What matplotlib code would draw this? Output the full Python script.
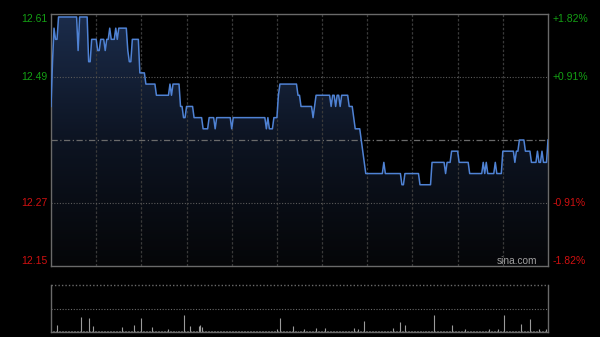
import numpy as np
import matplotlib
matplotlib.use("Agg")
import matplotlib.pyplot as plt
from matplotlib.colors import LinearSegmentedColormap
from matplotlib.transforms import blended_transform_factory

plt.rcParams["font.family"] = ["Liberation Sans", "DejaVu Sans"]

# ---------------- data ----------------
prev_close = 12.38
total_minutes = 331          # 09:30-12:00 + 13:00-16:00, one point per minute

# price as runs: minute where a run starts, and its price
run_start = [0, 1, 2, 3, 5, 18, 19, 25, 27, 31, 33, 36, 37, 39, 40, 43, 44, 45,
             51, 52, 54, 59, 63, 70, 79, 80, 81, 86, 88, 90, 95, 101, 105, 109,
             110, 120, 121, 143, 144, 145, 148, 151, 152, 164, 166, 174, 175,
             176, 186, 187, 189, 190, 192, 193, 198, 201, 202, 206, 207, 208,
             209, 221, 222, 233, 235, 245, 253, 262, 263, 266, 271, 278, 287,
             288, 289, 290, 295, 296, 300, 308, 309, 311, 315, 319, 323, 324,
             326, 327, 330]
run_price = [12.44, 12.52, 12.58, 12.56, 12.60, 12.54, 12.60, 12.52, 12.56,
             12.54, 12.56, 12.54, 12.56, 12.58, 12.56, 12.58, 12.56, 12.58,
             12.54, 12.52, 12.56, 12.50, 12.48, 12.46, 12.48, 12.46, 12.48,
             12.44, 12.42, 12.44, 12.42, 12.40, 12.42, 12.40, 12.42, 12.40,
             12.42, 12.40, 12.42, 12.40, 12.42, 12.46, 12.48, 12.46, 12.44,
             12.42, 12.44, 12.46, 12.44, 12.46, 12.44, 12.46, 12.44, 12.46,
             12.44, 12.42, 12.40, 12.38, 12.36, 12.34, 12.32, 12.34, 12.32,
             12.30, 12.32, 12.30, 12.34, 12.32, 12.34, 12.36, 12.34, 12.32,
             12.34, 12.32, 12.34, 12.32, 12.34, 12.32, 12.36, 12.34, 12.36,
             12.38, 12.36, 12.34, 12.36, 12.34, 12.36, 12.34, 12.38]

# volume spikes (minute, volume in arbitrary lots); other minutes use base_volume
spike_minute = [4, 20, 25, 28, 47, 55, 60, 67, 78, 88, 92, 98, 99, 100, 150,
                152, 161, 168, 176, 182, 201, 204, 208, 227, 232, 235, 254,
                266, 275, 291, 297, 301, 312, 318, 324, 329]
spike_volume = [7, 15, 14, 5.6, 5, 7, 14, 4.6, 3, 17, 5.6, 6, 7, 5, 3,
                14, 5.6, 3.3, 4, 4, 4, 3, 11.3, 4, 9.7, 6.7, 17,
                6.7, 3, 3, 3, 17, 8, 13, 3, 3]
base_volume = 1.0
volume_max = 47

left_labels = ["12.61", "12.49", "12.27", "12.15"]
right_labels = ["+1.82%", "+0.91%", "-0.91%", "-1.82%"]
label_pct = [0.0182, 0.0091, -0.0091, -0.0182]
label_colors = ["#14a014", "#14a014", "#d01010", "#d01010"]

# ---------------- build series ----------------
minutes = np.arange(total_minutes)
prices = np.empty(total_minutes)
for i, s in enumerate(run_start):
    e = run_start[i + 1] if i + 1 < len(run_start) else total_minutes
    prices[s:e] = run_price[i]

volumes = np.full(total_minutes, base_volume)
for m, v in zip(spike_minute, spike_volume):
    volumes[m] = v

ylo = prev_close * (1 - 0.0182)
yhi = prev_close * (1 + 0.0182)

# ---------------- figure ----------------
W, H = 600, 337
fig = plt.figure(figsize=(W / 100, H / 100), dpi=100, facecolor="black")
ax = fig.add_axes([51 / W, 1 - 266 / H, 497 / W, 252 / H])
axv = fig.add_axes([51 / W, 1 - 332 / H, 497 / W, 47 / H])

for a in (ax, axv):
    a.set_facecolor("black")
    a.set_xticks([])
    a.set_yticks([])

ax.set_xlim(0, total_minutes - 1)
ax.set_ylim(ylo, yhi)

# gradient fill under the line
cmap = LinearSegmentedColormap.from_list("g", ["#050608", "#0d1422", "#1b2c4b"])
grad = np.linspace(0, 1, 256).reshape(-1, 1)
im = ax.imshow(grad, extent=[0, total_minutes - 1, ylo, yhi], origin="lower",
               aspect="auto", cmap=cmap, zorder=1)
poly = ax.fill_between(minutes, prices, ylo, facecolor="none", edgecolor="none")
im.set_clip_path(poly.get_paths()[0], transform=ax.transData)

# grid
for k in range(1, 11):
    ax.axvline(k * 30, color="#3a3a3a", lw=0.9, ls=(0, (2, 1.5)), zorder=2)
for p in (0.0091, -0.0091):
    ax.axhline(prev_close * (1 + p), color="#5a5a5a", lw=0.8, ls=(0, (1, 1.5)), zorder=2)
ax.axhline(prev_close, color="#6a6a6a", lw=0.9, ls=(0, (5, 2, 1, 2)), zorder=2)

ax.plot(minutes, prices, color="#4f82d4", lw=1.1, zorder=3)

for s in ax.spines.values():
    s.set_color("#6a6a6a")
    s.set_linewidth(1.0)

# labels
tr = blended_transform_factory(ax.transAxes, ax.transData)
for lab, rl, p, c in zip(left_labels, right_labels, label_pct, label_colors):
    y = prev_close * (1 + p)
    va = "top" if p == 0.0182 else ("bottom" if p == -0.0182 else "center")
    ax.text(-0.008, y, lab, transform=tr, ha="right", va=va, color=c, fontsize=7.5)
    ax.text(1.010, y, rl, transform=tr, ha="left", va=va, color=c, fontsize=7.5)

ax.text(0.978, 0.02, "sina.com", transform=ax.transAxes, ha="right", va="center",
        color="#a0a0a0", fontsize=7.3, zorder=4)

# volume panel
axv.set_xlim(0, total_minutes - 1)
axv.set_ylim(0, volume_max)
axv.vlines(minutes, 0, volumes, color="#9a9a9a", lw=0.8)
axv.axhline(volume_max / 2, color="#6a6a6a", lw=0.8, ls=(0, (1, 1.5)))
axv.axhline(volume_max, color="#6a6a6a", lw=1.0, ls=(0, (1, 1.5)), clip_on=False)
axv.spines["top"].set_visible(False)
for k in ("left", "right", "bottom"):
    axv.spines[k].set_color("#6a6a6a")
    axv.spines[k].set_linewidth(1.0)

fig.savefig("out.png", dpi=100, facecolor="black")
